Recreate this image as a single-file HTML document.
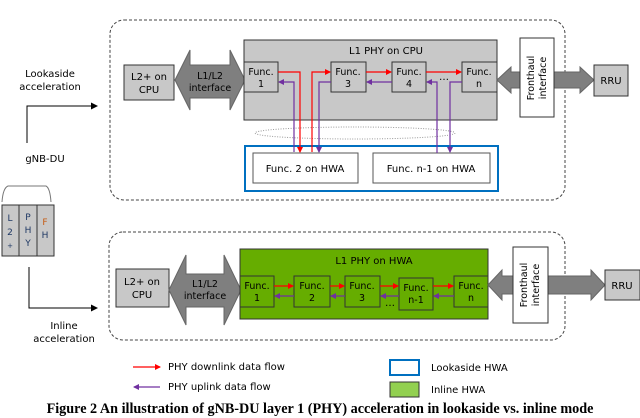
<!DOCTYPE html>
<html><head><meta charset="utf-8"><style>
body{margin:0;background:#fff;}
svg{display:block;font-family:"DejaVu Sans","Liberation Sans",sans-serif;}
</style></head><body>
<svg width="640" height="418" viewBox="0 0 640 418" xmlns="http://www.w3.org/2000/svg">
<defs>
<marker id="r" markerWidth="6" markerHeight="6" refX="5" refY="3" orient="auto" markerUnits="userSpaceOnUse"><path d="M0,0 L6,3 L0,6 z" fill="#f00"/></marker>
<marker id="p" markerWidth="6" markerHeight="6" refX="5" refY="3" orient="auto" markerUnits="userSpaceOnUse"><path d="M0,0 L6,3 L0,6 z" fill="#7030a0"/></marker>
<marker id="k" markerWidth="7" markerHeight="7" refX="6" refY="3.5" orient="auto" markerUnits="userSpaceOnUse"><path d="M0,0 L7,3.5 L0,7 z" fill="#000"/></marker>
</defs>
<g font-size="10" fill="#000">
<text x="50" y="77" text-anchor="middle">Lookaside</text>
<text x="50" y="90" text-anchor="middle">acceleration</text>
<polyline points="27,143 27,106 97,106" fill="none" stroke="#000" stroke-width="1" marker-end="url(#k)"/>
<text x="45" y="162" text-anchor="middle">gNB-DU</text>
<path d="M2,202 Q3,188 8,186 L46,186 Q50,188 51,202" fill="none" stroke="#777" stroke-width="1"/>
<rect x="2" y="205" width="17" height="51" fill="#c8c8c8" stroke="#333"/>
<rect x="19" y="205" width="18" height="51" fill="#c8c8c8" stroke="#333"/>
<rect x="37" y="205" width="17" height="51" fill="#c8c8c8" stroke="#333"/>
<g fill="#1f3864" font-size="9" text-anchor="middle">
<text x="10" y="221">L</text><text x="10" y="235">2</text><text x="10" y="248" font-size="7">+</text>
<text x="28" y="220">P</text><text x="28" y="233">H</text><text x="28" y="246">Y</text>
<text x="45" y="225" fill="#c55a11">F</text><text x="45" y="238">H</text>
</g>
<polyline points="29,267 29,308 97,308" fill="none" stroke="#000" stroke-width="1" marker-end="url(#k)"/>
<text x="64" y="329" text-anchor="middle">Inline</text>
<text x="64" y="342" text-anchor="middle">acceleration</text>

<rect x="110" y="20" width="455" height="180" rx="14" fill="none" stroke="#444" stroke-dasharray="3,2"/>
<rect x="124" y="65" width="50" height="35" fill="#c8c8c8" stroke="#333"/>
<text x="149" y="80" text-anchor="middle">L2+ on</text><text x="149" y="93" text-anchor="middle">CPU</text>
<path d="M175,80 L190,50 L190,65 L230,65 L230,50 L245,80 L230,110 L230,98 L190,98 L190,110 z" fill="#7f7f7f" stroke="#666"/>
<text x="210" y="79" text-anchor="middle" font-size="9.5">L1/L2</text><text x="210" y="91" text-anchor="middle" font-size="9.5">interface</text>
<rect x="244" y="40" width="253" height="80" fill="#c8c8c8" stroke="#333"/>
<text x="386" y="54" text-anchor="middle">L1 PHY on CPU</text>
<rect x="244" y="62" width="34" height="30" fill="#c8c8c8" stroke="#333"/>
<rect x="331" y="62" width="35" height="30" fill="#c8c8c8" stroke="#333"/>
<rect x="392" y="62" width="34" height="30" fill="#c8c8c8" stroke="#333"/>
<rect x="462" y="62" width="35" height="30" fill="#c8c8c8" stroke="#333"/>
<g text-anchor="middle" font-size="9.5">
<text x="261" y="75">Func.</text><text x="261" y="87">1</text>
<text x="348" y="75">Func.</text><text x="348" y="87">3</text>
<text x="409" y="75">Func.</text><text x="409" y="87">4</text>
<text x="479" y="75">Func.</text><text x="479" y="87">n</text>
</g>
<text x="444" y="80" text-anchor="middle">…</text>
<ellipse cx="355" cy="133" rx="100" ry="6" fill="none" stroke="#999" stroke-dasharray="1,1.5"/>
<rect x="245" y="146" width="253" height="45" fill="none" stroke="#0070c0" stroke-width="2"/>
<rect x="253" y="153" width="105" height="30" fill="#fff" stroke="#555"/>
<rect x="373" y="153" width="117" height="30" fill="#fff" stroke="#555"/>
<text x="305" y="172" text-anchor="middle">Func. 2 on HWA</text>
<text x="431" y="172" text-anchor="middle">Func. n-1 on HWA</text>
<g fill="none" stroke-width="1.2">
<polyline points="278,72 300,72 300,152" stroke="#f00" marker-end="url(#r)"/>
<polyline points="312,152 312,72 330,72" stroke="#f00" marker-end="url(#r)"/>
<polyline points="366,72 391,72" stroke="#f00" marker-end="url(#r)"/>
<polyline points="426,72 461,72" stroke="#f00" marker-end="url(#r)"/>
<polyline points="294,152 294,82 279,82" stroke="#7030a0" marker-end="url(#p)"/>
<polyline points="331,82 319,82 319,152" stroke="#7030a0" marker-end="url(#p)"/>
<polyline points="392,82 367,82" stroke="#7030a0" marker-end="url(#p)"/>
<polyline points="437,153 437,82 427,82" stroke="#7030a0" marker-end="url(#p)"/>
<polyline points="462,82 450,82 450,152" stroke="#7030a0" marker-end="url(#p)"/>
</g>
<path d="M497,80 L511,67 L511,72 L580,72 L580,67 L594,80 L580,93 L580,88 L511,88 L511,93 z" fill="#7f7f7f" stroke="#666"/>
<rect x="520" y="38" width="34" height="79" fill="#fff" stroke="#333"/>
<text transform="translate(534,78) rotate(-90)" text-anchor="middle" font-size="9.5">Fronthaul</text>
<text transform="translate(546,78) rotate(-90)" text-anchor="middle" font-size="9.5">interface</text>
<rect x="594" y="65" width="34" height="31" fill="#c8c8c8" stroke="#333"/>
<text x="611" y="84" text-anchor="middle">RRU</text>

<rect x="109" y="232" width="456" height="108" rx="14" fill="none" stroke="#444" stroke-dasharray="3,2"/>
<rect x="116" y="269" width="53" height="38" fill="#c8c8c8" stroke="#333"/>
<text x="142" y="285" text-anchor="middle">L2+ on</text><text x="142" y="298" text-anchor="middle">CPU</text>
<path d="M169,290 L186,255 L186,274 L224,274 L224,255 L241,290 L224,325 L224,307 L186,307 L186,325 z" fill="#7f7f7f" stroke="#666"/>
<text x="205" y="287" text-anchor="middle" font-size="9.5">L1/L2</text><text x="205" y="299" text-anchor="middle" font-size="9.5">interface</text>
<rect x="240" y="249" width="248" height="70" fill="#66ad00" stroke="#333"/>
<text x="374" y="264" text-anchor="middle">L1 PHY on HWA</text>
<g fill="#66ad00" stroke="#333">
<rect x="240" y="276" width="34" height="31"/>
<rect x="294" y="276" width="36" height="31"/>
<rect x="345" y="276" width="35" height="31"/>
<rect x="399" y="278" width="34" height="32"/>
<rect x="454" y="276" width="34" height="31"/>
</g>
<g text-anchor="middle" font-size="9.5">
<text x="257" y="289">Func.</text><text x="257" y="301">1</text>
<text x="312" y="289">Func.</text><text x="312" y="301">2</text>
<text x="362" y="289">Func.</text><text x="362" y="301">3</text>
<text x="416" y="291">Func.</text><text x="416" y="303">n-1</text>
<text x="471" y="289">Func.</text><text x="471" y="301">n</text>
</g>
<text x="390" y="306" text-anchor="middle">…</text>
<g fill="none" stroke-width="1.2">
<line x1="274" y1="286" x2="293" y2="286" stroke="#f00" marker-end="url(#r)"/>
<line x1="330" y1="286" x2="344" y2="286" stroke="#f00" marker-end="url(#r)"/>
<line x1="380" y1="286" x2="398" y2="286" stroke="#f00" marker-end="url(#r)"/>
<line x1="433" y1="286" x2="453" y2="286" stroke="#f00" marker-end="url(#r)"/>
<line x1="294" y1="296" x2="275" y2="296" stroke="#7030a0" marker-end="url(#p)"/>
<line x1="345" y1="296" x2="331" y2="296" stroke="#7030a0" marker-end="url(#p)"/>
<line x1="399" y1="296" x2="381" y2="296" stroke="#7030a0" marker-end="url(#p)"/>
<line x1="454" y1="296" x2="434" y2="296" stroke="#7030a0" marker-end="url(#p)"/>
</g>
<path d="M488,285 L502,270 L502,276 L591,276 L591,270 L605,285 L591,300 L591,294 L502,294 L502,300 z" fill="#7f7f7f" stroke="#666"/>
<rect x="513" y="247" width="35" height="76" fill="#fff" stroke="#333"/>
<text transform="translate(527,285) rotate(-90)" text-anchor="middle" font-size="9.5">Fronthaul</text>
<text transform="translate(539,285) rotate(-90)" text-anchor="middle" font-size="9.5">interface</text>
<rect x="605" y="270" width="35" height="30" fill="#c8c8c8" stroke="#333"/>
<text x="622" y="289" text-anchor="middle">RRU</text>

<line x1="133" y1="367" x2="160" y2="367" stroke="#f00" stroke-width="1.2" marker-end="url(#r)"/>
<text x="168" y="370">PHY downlink data flow</text>
<line x1="160" y1="387" x2="134" y2="387" stroke="#7030a0" stroke-width="1.2" marker-end="url(#p)"/>
<text x="168" y="390">PHY uplink data flow</text>
<rect x="390" y="360" width="29" height="15" fill="#fff" stroke="#0070c0" stroke-width="2"/>
<text x="431" y="371">Lookaside HWA</text>
<rect x="390" y="382" width="29" height="15" fill="#92d050" stroke="#333"/>
<text x="431" y="393">Inline HWA</text>
</g>
<text x="320" y="413" text-anchor="middle" font-family="'Liberation Serif',serif" font-weight="bold" font-size="14.2">Figure 2 An illustration of gNB-DU layer 1 (PHY) acceleration in lookaside vs. inline mode</text>
</svg>
</body></html>
